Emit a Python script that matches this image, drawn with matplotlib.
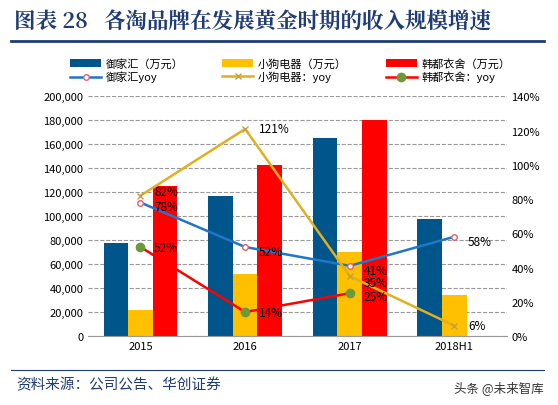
import matplotlib
matplotlib.use("Agg")
import matplotlib.pyplot as plt
import numpy as np

plt.rcParams['font.family'] = ['Noto Sans CJK SC', 'DejaVu Sans']

categories = ['2015', '2016', '2017', '2018H1']
yjh = [78000, 117000, 165000, 98000]
xgdq = [22000, 52000, 70000, 34000]
hdys = [125000, 143000, 180000, np.nan]
yjh_yoy = [78, 52, 41, 58]
xgdq_yoy = [82, 121, 35, 6]
hdys_yoy = [52, 14, 25]

fig = plt.figure(figsize=(5.58, 4.06), dpi=100)
fig.text(0.025, 0.945, '图表 28   各淘品牌在发展黄金时期的收入规模增速', fontsize=15.5,
         fontweight='bold', color='#1f3c74', va='center', family=['Noto Serif CJK SC', 'Noto Sans CJK SC'])
fig.add_artist(plt.Line2D([0.02, 0.975], [0.897, 0.897], color='#1f3c74', lw=2))
fig.text(0.03, 0.05, '资料来源：公司公告、华创证券', fontsize=10.5, color='#1f3c74', style='italic', va='center')
fig.text(0.975, 0.045, '头条 @未来智库', fontsize=9, color='#333333', ha='right', va='center')
fig.add_artist(plt.Line2D([0.02, 0.975], [0.085, 0.085], color='#1f3c74', lw=0.8))

ax = fig.add_axes([0.158, 0.17, 0.75, 0.59])
x = np.arange(len(categories))
w = 0.235
ax.bar(x - w, yjh, w, color='#00558b', label='御家汇（万元）')
ax.bar(x, xgdq, w, color='#ffc000', label='小狗电器（万元）')
ax.bar(x + w, hdys, w, color='#ff0000', label='韩都衣舍（万元）')
ax.set_ylim(0, 200000)
ax.set_yticks(range(0, 200001, 20000))
ax.set_yticklabels([f'{v:,}' for v in range(0, 200001, 20000)], fontsize=8)
ax.set_xticks(x)
ax.set_xticklabels(categories, fontsize=8)
ax.set_xlim(-0.5, 3.5)
ax.yaxis.grid(True, ls='--', color='#999999', lw=0.8)
ax.set_axisbelow(True)
for s in ['top', 'right', 'left']:
    ax.spines[s].set_visible(False)
ax.spines['bottom'].set_color('#999999')
ax.tick_params(length=0)

ax2 = ax.twinx()
ax2.set_ylim(0, 140)
ax2.set_yticks(range(0, 141, 20))
ax2.set_yticklabels([f'{v}%' for v in range(0, 141, 20)], fontsize=8)
for s in ['top', 'right', 'left', 'bottom']:
    ax2.spines[s].set_visible(False)
ax2.tick_params(length=0)
ax2.plot(x, yjh_yoy, color='#1f77c8', lw=1.8, marker='o', ms=4, mfc='white', mec='#e06070', label='御家汇yoy')
ax2.plot(x, xgdq_yoy, color='#e0b020', lw=1.8, marker='x', ms=5, mec='#c8a040', label='小狗电器：yoy')
ax2.plot(x[:3], hdys_yoy, color='#ff0000', lw=1.8, marker='o', ms=6, mfc='#6a9a3a', mec='#6a9a3a', label='韩都衣舍：yoy')

for xi, v in zip(x, yjh_yoy):
    ax2.text(xi + 0.13, v - 2.5, f'{v}%', fontsize=8.5, va='center')
for xi, v in zip(x, xgdq_yoy):
    dy = 2.5 if xi == 0 else (-3.5 if xi == 2 else 0)
    ax2.text(xi + 0.13, v + dy, f'{v}%', fontsize=8.5, va='center')
for xi, v in zip(x[:3], hdys_yoy):
    dy = -2 if xi == 2 else 0
    ax2.text(xi + 0.13, v + dy, f'{v}%', fontsize=8.5, va='center')

h1, l1 = ax.get_legend_handles_labels()
h2, l2 = ax2.get_legend_handles_labels()
handles = [h1[0], h2[0], h1[1], h2[1], h1[2], h2[2]]
labels = [l1[0], l2[0], l1[1], l2[1], l1[2], l2[2]]
fig.legend(handles, labels, ncol=3, loc='center', bbox_to_anchor=(0.52, 0.825), frameon=False,
           fontsize=8, handlelength=2.8, columnspacing=3.5, handletextpad=0.4, labelspacing=0.2)

fig.savefig('out.png', dpi=100)
